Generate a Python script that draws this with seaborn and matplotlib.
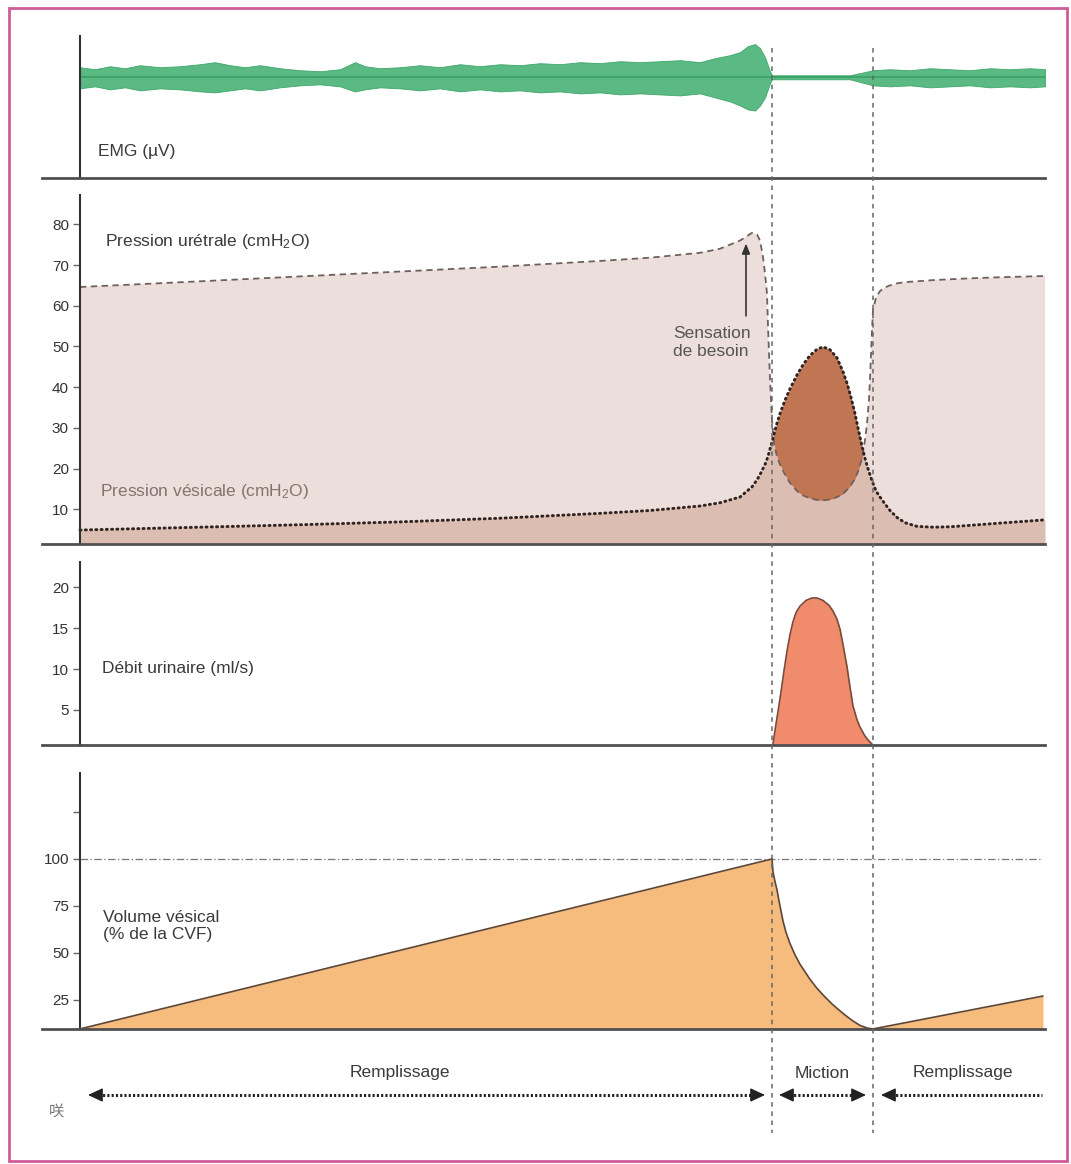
import matplotlib
matplotlib.use("Agg")
import matplotlib.pyplot as plt
import seaborn as sns
import numpy as np
import pandas as pd
from matplotlib.patches import Rectangle

# ------------------------------------------------------------------ data
# time axis in arbitrary units (0 = start of recording)
phase_bounds = [692, 793]            # start / end of micturition

# EMG envelope (µV, relative to baseline)
emg_t = [0, 15, 30, 45, 60, 80, 100, 120, 135, 150, 165, 180, 200, 220, 240,
         260, 275, 285, 300, 320, 340, 360, 380, 400, 420, 440, 460, 480, 500,
         520, 540, 560, 580, 600, 620, 635, 650, 660, 668, 675, 680, 685, 690,
         692, 710, 730, 750, 770, 793, 810, 830, 850, 870, 890, 910, 930, 950, 965]
emg_upper = [10, 8, 11, 9, 12, 10, 11, 13, 15, 12, 10, 12, 9, 7, 6,
             8, 15, 11, 9, 10, 12, 10, 13, 11, 13, 12, 14, 13, 15,
             14, 16, 15, 16, 17, 15, 19, 22, 25, 31, 33, 29, 20, 6,
             2, 2, 2, 2, 2, 7, 8, 7, 9, 8, 7, 9, 8, 9, 8]
emg_lower = [-11, -9, -12, -10, -13, -11, -12, -14, -15, -13, -11, -13, -10, -8, -7,
             -9, -14, -12, -10, -11, -13, -11, -14, -12, -14, -13, -15, -14, -16,
             -15, -17, -16, -17, -18, -16, -20, -24, -28, -32, -33, -28, -20, -6,
             -2, -2, -2, -2, -2, -8, -9, -8, -10, -9, -8, -10, -9, -10, -9]

# Pressures (cmH2O)
p_t = [0, 120, 220, 320, 420, 520, 570, 620, 640, 660, 672, 677, 680, 683, 685,
       687, 688, 690, 692, 694, 697, 700, 705, 710, 717, 723, 730, 737, 743, 750,
       757, 763, 767, 771, 775, 778, 782, 785, 787, 789, 790, 791, 792, 793, 796,
       800, 805, 810, 817, 825, 837, 853, 870, 887, 920, 965]
p_urethral = [64.6, 66.0, 67.2, 68.4, 69.6, 71.0, 71.8, 73.0, 74.0, 76.0, 77.9, 77.5,
              76.0, 72.0, 68.0, 63.0, 55.0, 42.0, 32.0, 26.0, 23.0, 21.0, 18.5, 16.5,
              14.5, 13.4, 12.7, 12.3, 12.2, 12.4, 13.0, 13.8, 14.8, 16.0, 17.5, 19.3,
              22.5, 27.0, 31.0, 37.0, 42.0, 48.0, 54.0, 59.0, 62.0, 63.6, 64.5, 65.0,
              65.5, 65.8, 66.0, 66.3, 66.5, 66.7, 67.0, 67.3]
p_vesical = [4.9, 5.6, 6.2, 6.9, 7.8, 9.0, 9.7, 10.8, 11.6, 13.0, 15.5, 17.2, 18.5,
             20.0, 21.0, 22.3, 23.0, 24.8, 26.5, 28.4, 31.2, 33.5, 36.8, 39.6, 43.0,
             45.5, 47.8, 49.3, 49.9, 49.2, 47.2, 43.8, 41.0, 37.5, 33.5, 30.0, 25.5,
             22.5, 20.8, 19.2, 18.5, 17.8, 17.0, 16.4, 14.5, 13.0, 11.3, 9.7, 8.0,
             6.7, 5.8, 5.6, 5.7, 6.0, 6.6, 7.4]

# Urinary flow (ml/s)
flow_t = [692, 695, 698, 701, 704, 707, 710, 713, 716, 720, 726, 732, 737, 743, 749,
          753, 757, 760, 763, 767, 770, 773, 777, 780, 785, 789, 793]
flow_v = [0.0, 2.5, 4.8, 7.2, 9.8, 12.2, 14.2, 15.8, 16.9, 17.7, 18.4, 18.7, 18.7,
          18.4, 17.8, 17.1, 16.1, 14.9, 13.0, 10.3, 7.8, 5.5, 3.8, 2.9, 1.8, 1.2, 0.7]

# Bladder volume (% of CVF)
vol_t = [0, 692, 693, 695, 697, 700, 703, 706, 710, 715, 720, 725, 730, 737, 745,
         753, 760, 767, 773, 780, 787, 793, 963]
vol_v = [9.6, 100, 93, 88, 83.5, 75, 67, 61, 55, 49, 44, 40, 36, 31.2, 26.6,
         22.4, 19.2, 16.2, 13.8, 11.5, 10.1, 9.6, 27.1]

pressure_ticks = [10, 20, 30, 40, 50, 60, 70, 80]
flow_ticks = [5, 10, 15, 20]
vol_ticks = [25, 50, 75, 100, 125]
vol_ticklabels = ["25", "50", "75", "100", ""]
vol_ref = 100

phase_labels = ["Remplissage", "Miction", "Remplissage"]
phase_label_x = [320, 742, 883]
phase_arrows = [(8, 685, True), (699, 786, True), (801, 962, False)]

# ------------------------------------------------------------------ style
sns.set_theme(style="white")
plt.rcParams["font.family"] = ["Liberation Sans", "DejaVu Sans"]
plt.rcParams["mathtext.default"] = "regular"

TXT = "#3a3a3a"
W, H = 1071, 1164
L, R = 42, 1045
XLIM = (-38, 965)

fig = plt.figure(figsize=(W / 100, H / 100), dpi=100)
fig.patch.set_facecolor("white")


def add_panel(top, bottom):
    ax = fig.add_axes([L / W, 1 - bottom / H, (R - L) / W, (bottom - top) / H])
    ax.set_xlim(*XLIM)
    ax.set_facecolor("none")
    for s in ("top", "right"):
        ax.spines[s].set_visible(False)
    ax.spines["left"].set_position(("data", 0))
    ax.spines["left"].set_color("#333333")
    ax.spines["left"].set_linewidth(1.5)
    ax.spines["bottom"].set_color("#505050")
    ax.spines["bottom"].set_linewidth(2.0)
    ax.set_xticks([])
    ax.tick_params(axis="y", left=True, length=5, width=1, color="#666666",
                   labelsize=11, labelcolor="#333333", pad=3)
    return ax


ax_emg = add_panel(36, 178)
ax_p = add_panel(195, 544)
ax_f = add_panel(562, 745)
ax_v = add_panel(773, 1029)

# ---- EMG
ax_emg.set_ylim(-100, 41)
ax_emg.set_yticks([])
ax_emg.fill_between(emg_t, emg_lower, emg_upper, color="#4db47a", lw=0.6,
                    edgecolor="#35a464", alpha=0.92)
ax_emg.plot(emg_t, [0] * len(emg_t), color="#22914f", lw=1.2, alpha=0.6)
ax_emg.text(18, -74, "EMG (µV)", fontsize=12.5, color=TXT, ha="left", va="center")

# ---- Pressures
ax_p.set_ylim(1.47, 87.2)
ax_p.set_yticks(pressure_ticks)
pu = np.array(p_urethral)
pv = np.array(p_vesical)
ax_p.fill_between(p_t, 0, pv, color="#dbbdb1", lw=0)
ax_p.fill_between(p_t, pv, pu, where=pu >= pv, interpolate=True, color="#ecdfdb", lw=0)
ax_p.fill_between(p_t, pu, pv, where=pv > pu, interpolate=True, color="#c07653", lw=0)
sns.lineplot(x=p_t, y=p_urethral, ax=ax_p, color="#6e615d", lw=1.3,
             linestyle=(0, (3.5, 2.5)), sort=False, estimator=None)
sns.lineplot(x=p_t, y=p_vesical, ax=ax_p, color="#33231f", lw=2.1,
             linestyle=(0, (0.4, 1.4)), dash_capstyle="round", sort=False, estimator=None)
ax_p.text(25, 75.7, "Pression urétrale (cmH$_2$O)", fontsize=12.5, color=TXT,
          ha="left", va="center")
ax_p.text(20, 14.3, "Pression vésicale (cmH$_2$O)", fontsize=12.5, color="#85736d",
          ha="left", va="center")
ax_p.annotate("", xy=(666, 75.3), xytext=(666, 57.5),
              arrowprops=dict(arrowstyle="-|>,head_length=0.5,head_width=0.2",
                              color="#333333", lw=1.2, shrinkA=0, shrinkB=0))
ax_p.text(593, 51.0, "Sensation\nde besoin", fontsize=12.5, color="#555555",
          ha="left", va="center", linespacing=1.2)

# ---- Flow
ax_f.set_ylim(0.71, 23.1)
ax_f.set_yticks(flow_ticks)
ax_f.fill_between(flow_t, 0, flow_v, color="#f08c6c", lw=0)
sns.lineplot(x=flow_t, y=flow_v, ax=ax_f, color="#7a4a3a", lw=1.2,
             sort=False, estimator=None)
ax_f.text(22, 10.1, "Débit urinaire (ml/s)", fontsize=12.5, color=TXT,
          ha="left", va="center")

# ---- Volume
ax_v.set_ylim(9.57, 145.7)
ax_v.set_yticks(vol_ticks)
ax_v.set_yticklabels(vol_ticklabels)
ax_v.hlines(vol_ref, 0, 960, colors="#777777", lw=0.9, linestyles=(0, (6, 2, 1, 2)))
ax_v.fill_between(vol_t, 0, vol_v, color="#f6bc7e", lw=0)
sns.lineplot(x=vol_t, y=vol_v, ax=ax_v, color="#5e4636", lw=1.2,
             sort=False, estimator=None)
ax_v.text(23, 64.4, "Volume vésical\n(% de la CVF)", fontsize=12.5, color=TXT,
          ha="left", va="center", linespacing=1.2)

for ax in (ax_emg, ax_p, ax_f, ax_v):
    ax.set_xlabel("")
    ax.set_ylabel("")
    lg = ax.get_legend()
    if lg:
        lg.remove()

# ---- overlay: phase boundaries, phase arrows, labels
ov = fig.add_axes([L / W, 0, (R - L) / W, 1], zorder=10)
ov.set_xlim(*XLIM)
ov.set_ylim(H, 0)
ov.axis("off")
ov.vlines(phase_bounds, 48, 1133, colors="#666666", lw=1.1, linestyles=(0, (3, 3)))

ARROW_Y = 1095
for (x0, x1, right_head), lab, lx in zip(phase_arrows, phase_labels, phase_label_x):
    ov.plot([x0 + 6, x1 - (6 if right_head else 0)], [ARROW_Y, ARROW_Y],
            color="#222222", lw=2.2, linestyle=(0, (0.7, 0.7)))
    heads = [(x0, 1)] + ([(x1, -1)] if right_head else [])
    for tip, d in heads:
        ov.annotate("", xy=(tip, ARROW_Y), xytext=(tip + d * 12, ARROW_Y),
                    arrowprops=dict(arrowstyle="-|>,head_length=0.75,head_width=0.35",
                                    color="#222222", lw=1.0, shrinkA=0, shrinkB=0))
    ov.text(lx, 1073, lab, fontsize=12.5, color=TXT, ha="center", va="center")

ov.text(-23, 1112, "咲", fontsize=11, color="#777777", ha="center", va="center",
        family=["Noto Sans CJK JP", "DejaVu Sans"])

# ---- frame
fig.add_artist(Rectangle((9 / W, 1 - 1161 / H), (1067 - 9) / W, (1161 - 8) / H,
                         transform=fig.transFigure, fill=False,
                         edgecolor="#cf5c98", lw=2.0))

fig.savefig("out.png", dpi=100)
